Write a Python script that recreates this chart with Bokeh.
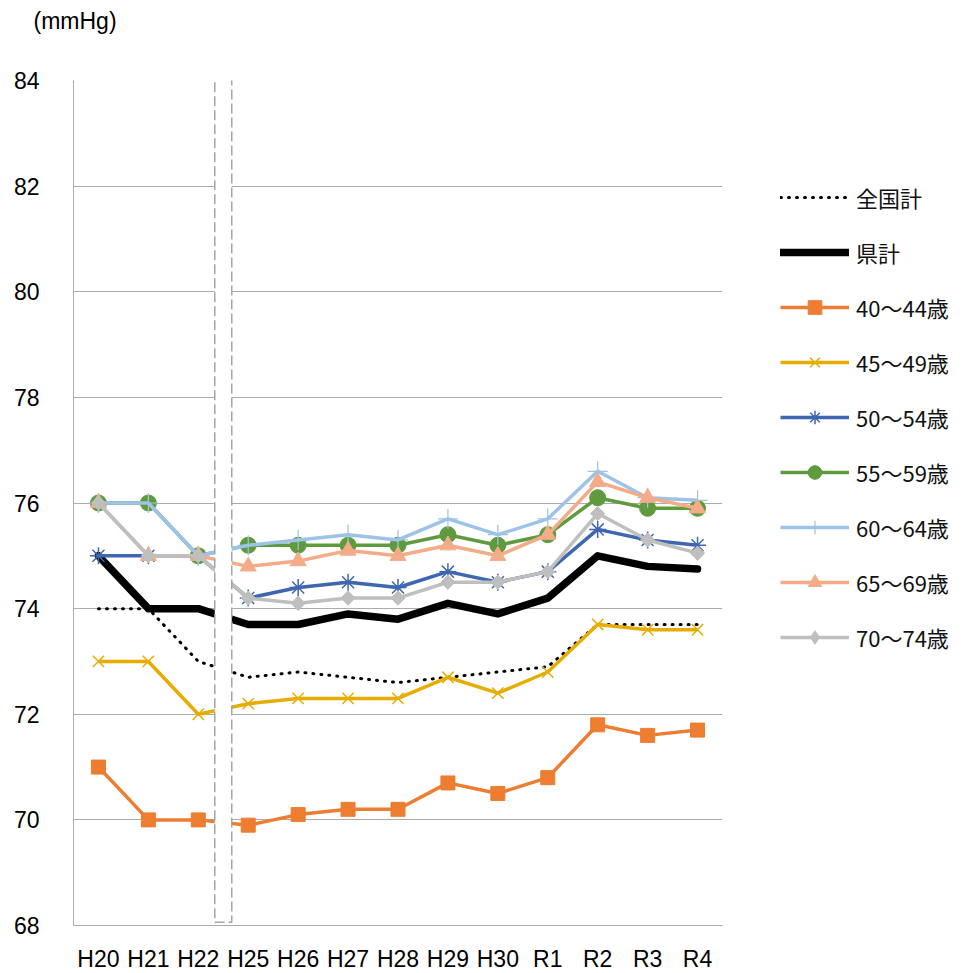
import numpy as np
from bokeh.plotting import figure
from bokeh.models import Range1d, FixedTicker, Legend, LegendItem, Title, LinearAxis
from bokeh.embed import file_html
from bokeh.resources import INLINE

# ---- data ----
categories = ["H20", "H21", "H22", "H25", "H26", "H27", "H28", "H29", "H30", "R1", "R2", "R3", "R4"]
y_ticks = [68, 70, 72, 74, 76, 78, 80, 82, 84]

national = [74.0, 74.0, 73.0, 72.7, 72.8, 72.7, 72.6, 72.7, 72.8, 72.9, 73.7, 73.7, 73.7]
prefecture = [75.0, 74.0, 74.0, 73.7, 73.7, 73.9, 73.8, 74.1, 73.9, 74.2, 75.0, 74.8, 74.75]
age_40_44 = [71.0, 70.0, 70.0, 69.9, 70.1, 70.2, 70.2, 70.7, 70.5, 70.8, 71.8, 71.6, 71.7]
age_45_49 = [73.0, 73.0, 72.0, 72.2, 72.3, 72.3, 72.3, 72.7, 72.4, 72.8, 73.7, 73.6, 73.6]
age_50_54 = [75.0, 75.0, 75.0, 74.2, 74.4, 74.5, 74.4, 74.7, 74.5, 74.7, 75.5, 75.3, 75.2]
age_55_59 = [76.0, 76.0, 75.0, 75.2, 75.2, 75.2, 75.2, 75.4, 75.2, 75.4, 76.1, 75.9, 75.9]
age_60_64 = [76.0, 76.0, 75.0, 75.2, 75.3, 75.4, 75.3, 75.7, 75.4, 75.7, 76.6, 76.1, 76.05]
age_65_69 = [76.0, 75.0, 75.0, 74.8, 74.9, 75.1, 75.0, 75.2, 75.0, 75.4, 76.4, 76.1, 75.9]
age_70_74 = [76.0, 75.0, 75.0, 74.2, 74.1, 74.2, 74.2, 74.5, 74.5, 74.7, 75.8, 75.3, 75.05]

series_labels = ["40～44歳", "45～49歳", "50～54歳", "55～59歳", "60～64歳", "65～69歳", "70～74歳"]
series_values = [age_40_44, age_45_49, age_50_54, age_55_59, age_60_64, age_65_69, age_70_74]

# ---- styles ----
colors = ["#ED7D31", "#E6AD00", "#3F66B0", "#5F9B3E", "#9DC3E6", "#F4AC88", "#BFBFBF"]
markers = ["square", "x", "asterisk", "circle", "cross", "triangle", "diamond"]
msizes = [14, 16, 17, 16, 20, 16, 14]
mline = [1, 1.5, 1.5, 1, 1.2, 1, 1]

LAB_FONT = "Liberation Sans"
JP_FONT = "Noto Sans CJK JP"
GRID = "#ABABAB"

xs = list(range(len(categories)))

p = figure(frame_width=649, frame_height=845,
           min_border_left=73, min_border_right=248, min_border_top=80, min_border_bottom=48,
           x_range=Range1d(-0.5, len(categories) - 0.5), y_range=Range1d(y_ticks[0], y_ticks[-1]),
           output_backend="svg", toolbar_location=None)
p.outline_line_color = None
p.background_fill_color = "white"
p.border_fill_color = "white"

p.xaxis.ticker = FixedTicker(ticks=xs)
p.xaxis.major_label_overrides = {i: c for i, c in enumerate(categories)}
p.yaxis.ticker = FixedTicker(ticks=y_ticks)
for ax in (p.xaxis, p.yaxis):
    ax.axis_line_color = GRID
    ax.axis_line_width = 1
    ax.major_tick_line_color = None
    ax.minor_tick_line_color = None
    ax.major_label_text_font = LAB_FONT
    ax.major_label_text_font_size = "23px"
    ax.major_label_text_color = "#000000"
p.xaxis.major_label_standoff = 14
p.yaxis.major_label_standoff = 28
p.xgrid.visible = False
p.ygrid.ticker = FixedTicker(ticks=y_ticks)
p.ygrid.grid_line_color = GRID
p.ygrid.grid_line_width = 1

items = []
r_nat = p.line(xs, national, line_color="black", line_width=3, line_dash="1 7", line_cap="round")
items.append(LegendItem(label="全国計", renderers=[r_nat]))
r_pref = p.line(xs, prefecture, line_color="black", line_width=7.5, line_join="round", line_cap="round")
items.append(LegendItem(label="県計", renderers=[r_pref]))

for lab, vals, col, mk, ms, mlw in zip(series_labels, series_values, colors, markers, msizes, mline):
    rl = p.line(xs, vals, line_color=col, line_width=3.5, line_join="round")
    rs = p.scatter(xs, vals, marker=mk, size=ms, fill_color=col, line_color=col, line_width=mlw)
    if mk == "diamond":
        # wider diamond on top (rotated square) so it looks like the original's
        p.scatter(xs, vals, marker="square", angle=np.pi / 4, size=10, fill_color=col, line_color=col)
    items.append(LegendItem(label=lab, renderers=[rl, rs]))

# break marker between H22 and H25
bx = categories.index("H22") + 0.5
p.quad(left=bx - 0.17, right=bx + 0.17, bottom=68.06, top=84.04,
       fill_color="white", line_color="#A6A6A6", line_dash="10 4", line_width=1.5)

legend = Legend(items=items, location=(58, 271), orientation="vertical",
                glyph_width=69, glyph_height=34, label_height=34, spacing=21,
                label_standoff=7, label_width=114, padding=0, margin=29,
                label_text_font=JP_FONT, label_text_font_size="22px", label_text_color="#111111",
                background_fill_alpha=0, border_line_alpha=0)
p.add_layout(legend, "right")

# invisible spacer axis between the frame and the unit label
spacer = LinearAxis(ticker=FixedTicker(ticks=[xs[-1]]), axis_line_color=None,
                    major_tick_line_color="white", major_tick_line_width=1,
                    minor_tick_line_color=None,
                    major_tick_out=44, minor_tick_out=0, major_tick_in=0, minor_tick_in=0,
                    major_label_overrides={xs[-1]: ""}, major_label_text_font_size="1px",
                    major_label_standoff=0)
p.add_layout(spacer, "above")

unit = Title(text="(mmHg)", align="left", offset=-40, standoff=6,
             text_font=LAB_FONT, text_font_size="23px", text_font_style="normal", text_color="#000000")
p.add_layout(unit, "above")

open("out.html", "w").write(file_html(p, INLINE))
